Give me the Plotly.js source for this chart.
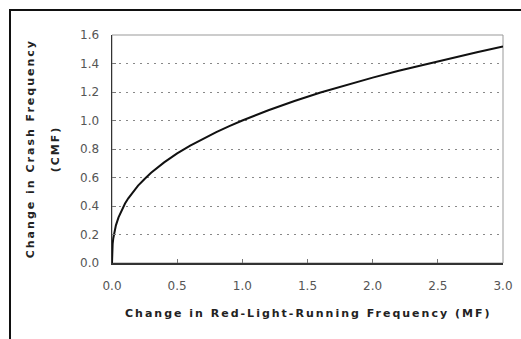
<!DOCTYPE html>
<html>
<head>
<meta charset="utf-8">
<script src="https://cdn.plot.ly/plotly-3.0.1.min.js"></script>
<style>
  html, body { margin: 0; padding: 0; background: #fff; overflow: hidden; }
  #wrap { position: relative; width: 521px; height: 339px; }
  #chart { position: absolute; left: 0; top: 0; width: 521px; height: 339px; }
  #frame { position: absolute; left: 9px; top: 9px; width: 700px; height: 500px;
           border-left: 2px solid #111; border-top: 2px solid #111; pointer-events: none; }
  .annotation-text { letter-spacing: 2px; }
</style>
</head>
<body>
<div id="wrap">
  <div id="chart"></div>
  <div id="frame"></div>
</div>
<script>
// Curve values
var mf  = [0, 0.002, 0.005, 0.01, 0.02, 0.03, 0.05, 0.075, 0.1, 0.125, 0.15, 0.2, 0.25, 0.3, 0.4, 0.5, 0.6, 0.7, 0.8, 0.9, 1.0, 1.2, 1.4, 1.6, 1.8, 2.0, 2.2, 2.4, 2.6, 2.8, 3.0];
var cmf = [0, 0.094, 0.134, 0.174, 0.226, 0.264, 0.32, 0.374, 0.417, 0.454, 0.486, 0.543, 0.59, 0.633, 0.706, 0.769, 0.824, 0.873, 0.919, 0.961, 1.0, 1.072, 1.137, 1.196, 1.25, 1.301, 1.349, 1.394, 1.437, 1.479, 1.52];

var xTicks = [0, 0.5, 1.0, 1.5, 2.0, 2.5, 3.0];
var xTickText = ['0.0', '0.5', '1.0', '1.5', '2.0', '2.5', '3.0'];
var yTicks = [0, 0.2, 0.4, 0.6, 0.8, 1.0, 1.2, 1.4, 1.6];
var yTickText = ['0.0', '0.2', '0.4', '0.6', '0.8', '1.0', '1.2', '1.4', '1.6'];

var xTitle = 'Change in Red-Light-Running Frequency (MF)';
var yTitle1 = 'Change in Crash Frequency';
var yTitle2 = '(CMF)';

var tickFont = { family: 'DejaVu Sans, sans-serif', size: 12, color: '#555' };
var titleFont = { family: 'DejaVu Sans, sans-serif', size: 11, color: '#222', weight: 'bold' };

var trace = {
  x: mf, y: cmf, type: 'scatter', mode: 'lines',
  line: { color: '#111', width: 2 },
  hoverinfo: 'skip'
};

var layout = {
  width: 521, height: 339,
  margin: { l: 112, r: 18, t: 35, b: 76, pad: 0 },
  paper_bgcolor: '#fff', plot_bgcolor: '#fff',
  showlegend: false,
  xaxis: {
    range: [0, 3], tickvals: xTicks, ticktext: xTickText,
    ticks: 'inside', ticklen: 4, tickcolor: '#777', tickwidth: 1,
    showgrid: false, zeroline: false,
    showline: true, linecolor: '#333', linewidth: 1.5,
    tickfont: tickFont, ticklabelstandoff: 11, fixedrange: true
  },
  yaxis: {
    range: [0, 1.6], tickvals: yTicks, ticktext: yTickText,
    ticks: 'inside', ticklen: 4, tickcolor: '#777', tickwidth: 1,
    showgrid: true, gridcolor: '#888', gridwidth: 1, griddash: '2px,5px',
    zeroline: false,
    showline: true, linecolor: '#333', linewidth: 1.5,
    tickfont: tickFont, ticklabelstandoff: 9, fixedrange: true
  },
  shapes: [
    { type: 'rect', xref: 'paper', yref: 'paper', x0: 0, x1: 1, y0: 0, y1: 1,
      line: { color: '#999', width: 1 }, layer: 'below' }
  ],
  annotations: [
    { text: xTitle, xref: 'paper', yref: 'paper', x: 0.5, y: -0.22,
      xanchor: 'center', yanchor: 'middle', showarrow: false, font: titleFont },
    { text: yTitle1, xref: 'paper', yref: 'paper', x: -0.209, y: 0.5,
      xanchor: 'center', yanchor: 'middle', textangle: -90, showarrow: false, font: titleFont },
    { text: yTitle2, xref: 'paper', yref: 'paper', x: -0.145, y: 0.5,
      xanchor: 'center', yanchor: 'middle', textangle: -90, showarrow: false, font: titleFont }
  ]
};

Plotly.newPlot('chart', [trace], layout, { displayModeBar: false, staticPlot: true });
</script>
</body>
</html>
